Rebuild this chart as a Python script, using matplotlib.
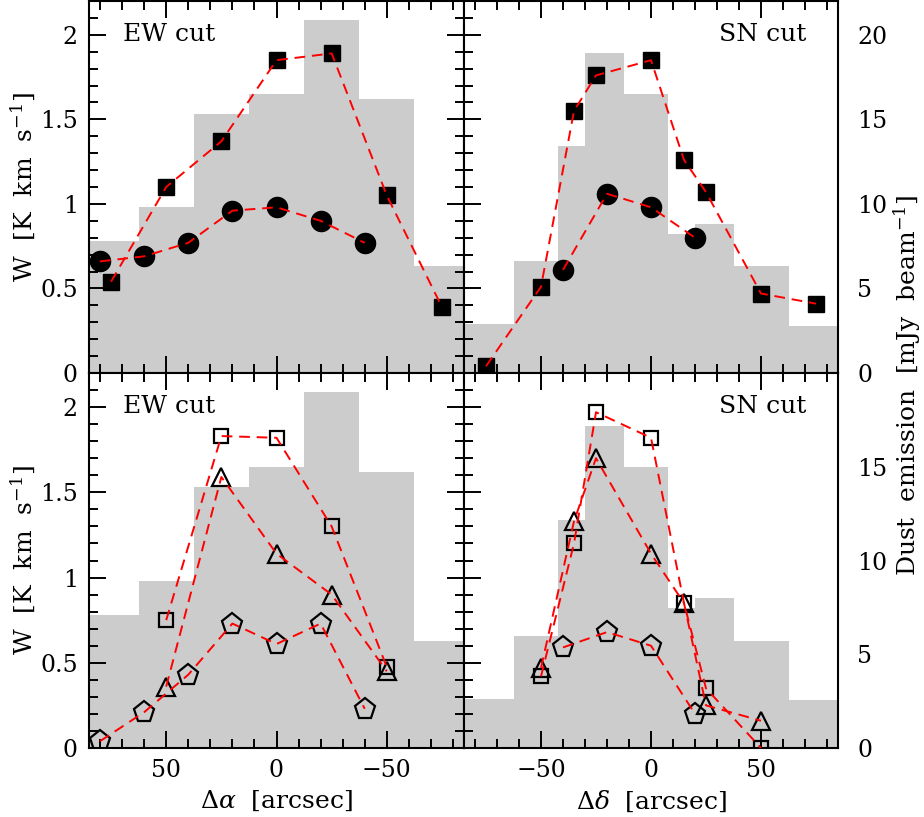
import numpy as np
import matplotlib
matplotlib.use('Agg')
import matplotlib.pyplot as plt
from matplotlib.ticker import MultipleLocator

plt.rcParams['font.family'] = 'DejaVu Serif'
plt.rcParams['mathtext.fontset'] = 'dejavuserif'
plt.rcParams['axes.linewidth'] = 1.5

# dust emission histograms (mJy/beam), plotted as W = dust / 10
ew_edges = [87.5, 62.5, 37.5, 12.5, -12.5, -37.5, -62.5, -87.5]
ew_dust = [7.8, 9.8, 15.3, 16.5, 20.9, 16.2, 6.3]
sn_edges = [-87.5, -62.5, -42.5, -30, -12.5, 7.5, 20, 37.5, 62.5, 87.5]
sn_dust = [2.9, 6.6, 13.4, 18.9, 16.5, 8.2, 8.8, 6.3, 2.8]

# top row: filled squares and filled circles
ew_sq_x = [75, 50, 25, 0, -25, -50, -75]
ew_sq_w = [0.54, 1.10, 1.37, 1.85, 1.89, 1.05, 0.39]
ew_ci_x = [80, 60, 40, 20, 0, -20, -40]
ew_ci_w = [0.66, 0.69, 0.77, 0.96, 0.98, 0.90, 0.77]

sn_sq_x = [-75, -50, -35, -25, 0, 15, 25, 50, 75]
sn_sq_w = [0.04, 0.51, 1.55, 1.76, 1.85, 1.26, 1.07, 0.47, 0.41]
sn_ci_x = [-40, -20, 0, 20]
sn_ci_w = [0.61, 1.06, 0.98, 0.80]

# bottom row: open squares, triangles, pentagons
ew_osq_x = [50, 25, 0, -25, -50]
ew_osq_w = [0.75, 1.83, 1.82, 1.30, 0.475]
ew_tri_x = [50, 25, 0, -25, -50]
ew_tri_w = [0.36, 1.59, 1.14, 0.90, 0.45]
ew_pen_x = [80, 60, 40, 20, 0, -20, -40]
ew_pen_w = [0.04, 0.21, 0.43, 0.73, 0.61, 0.73, 0.23]

sn_osq_x = [-50, -35, -25, 0, 15, 25, 50]
sn_osq_w = [0.42, 1.20, 1.97, 1.82, 0.85, 0.35, 0.0]
sn_tri_x = [-50, -35, -25, 0, 15, 25, 50]
sn_tri_w = [0.47, 1.33, 1.70, 1.14, 0.85, 0.25, 0.16]
sn_pen_x = [-40, -20, 0, 20]
sn_pen_w = [0.59, 0.68, 0.60, 0.20]

fig = plt.figure(figsize=(9.24, 8.17), dpi=100)
x0, xm, x1 = 89 / 924, 464 / 924, 838 / 924
yb, ym, yt = 1 - 748 / 817, 1 - 373 / 817, 1 - 1 / 817
ax_tl = fig.add_axes([x0, ym, xm - x0, yt - ym])
ax_tr = fig.add_axes([xm, ym, x1 - xm, yt - ym])
ax_bl = fig.add_axes([x0, yb, xm - x0, ym - yb])
ax_br = fig.add_axes([xm, yb, x1 - xm, ym - yb])


def style(ax, xlim):
    ax.set_xlim(*xlim)
    ax.set_ylim(0, 2.2)
    ax.xaxis.set_major_locator(MultipleLocator(50))
    ax.xaxis.set_minor_locator(MultipleLocator(10))
    ax.yaxis.set_major_locator(MultipleLocator(0.5))
    ax.yaxis.set_minor_locator(MultipleLocator(0.1))
    ax.yaxis.set_major_formatter(lambda v, p: f'{v:g}')
    ax.tick_params(which='both', direction='in', top=True, right=True,
                   width=1.4, labelsize=17)
    ax.tick_params(which='major', length=12, pad=8)
    ax.tick_params(which='minor', length=6.5)


def line(ax, x, w, marker, ms, filled):
    if filled:
        ax.plot(x, w, ls='none', marker=marker, ms=ms, color='black', zorder=3)
    else:
        ax.plot(x, w, ls='none', marker=marker, ms=ms, mfc='none', mec='black',
                mew=1.6, zorder=3)
    ax.plot(x, w, ls=(0, (5.5, 3.5)), color='red', lw=1.4, zorder=4)


for ax in (ax_tl, ax_bl):
    style(ax, (85, -85))
    ax.stairs(np.array(ew_dust) / 10, ew_edges, fill=True, color='#cccccc', zorder=1)
    ax.set_ylabel(r'W  [K  km  s$^{-1}$]', fontsize=18, labelpad=2)
    ax.text(0.09, 0.91, 'EW cut', transform=ax.transAxes, fontsize=18,
            ha='left', va='center')
for ax in (ax_tr, ax_br):
    style(ax, (-85, 85))
    ax.stairs(np.array(sn_dust) / 10, sn_edges, fill=True, color='#cccccc', zorder=1)
    ax.tick_params(labelleft=False)
    ax.text(0.915, 0.91, 'SN cut', transform=ax.transAxes, fontsize=18,
            ha='right', va='center')

line(ax_tl, ew_sq_x, ew_sq_w, 's', 11, True)
line(ax_tl, ew_ci_x, ew_ci_w, 'o', 14.5, True)
line(ax_tr, sn_sq_x, sn_sq_w, 's', 11, True)
line(ax_tr, sn_ci_x, sn_ci_w, 'o', 14.5, True)

line(ax_bl, ew_osq_x, ew_osq_w, 's', 10.5, False)
line(ax_bl, ew_tri_x, ew_tri_w, '^', 12.5, False)
line(ax_bl, ew_pen_x, ew_pen_w, 'p', 15.5, False)
line(ax_br, sn_osq_x, sn_osq_w, 's', 10.5, False)
line(ax_br, sn_tri_x, sn_tri_w, '^', 12.5, False)
line(ax_br, sn_pen_x, sn_pen_w, 'p', 15.5, False)

ax_tl.tick_params(labelbottom=False)
ax_tr.tick_params(labelbottom=False)
ax_bl.set_xlabel(r'$\Delta\alpha$  [arcsec]', fontsize=18, labelpad=5)
ax_br.set_xlabel(r'$\Delta\delta$  [arcsec]', fontsize=18, labelpad=5)

# dust emission scale on the right
for ax, top, ticks in ((ax_tr, 22, [0, 5, 10, 15, 20]), (ax_br, 20, [0, 5, 10, 15])):
    tw = ax.twinx()
    tw.set_ylim(0, top)
    tw.set_yticks(ticks)
    tw.tick_params(axis='y', length=0, labelsize=17, pad=14)
    for s in tw.spines.values():
        s.set_visible(False)

fig.text(0.982, 1 - 385 / 817, r'Dust  emission  [mJy  beam$^{-1}$]', rotation=90,
         fontsize=18, ha='center', va='center')

fig.savefig('out.png', dpi=100)
